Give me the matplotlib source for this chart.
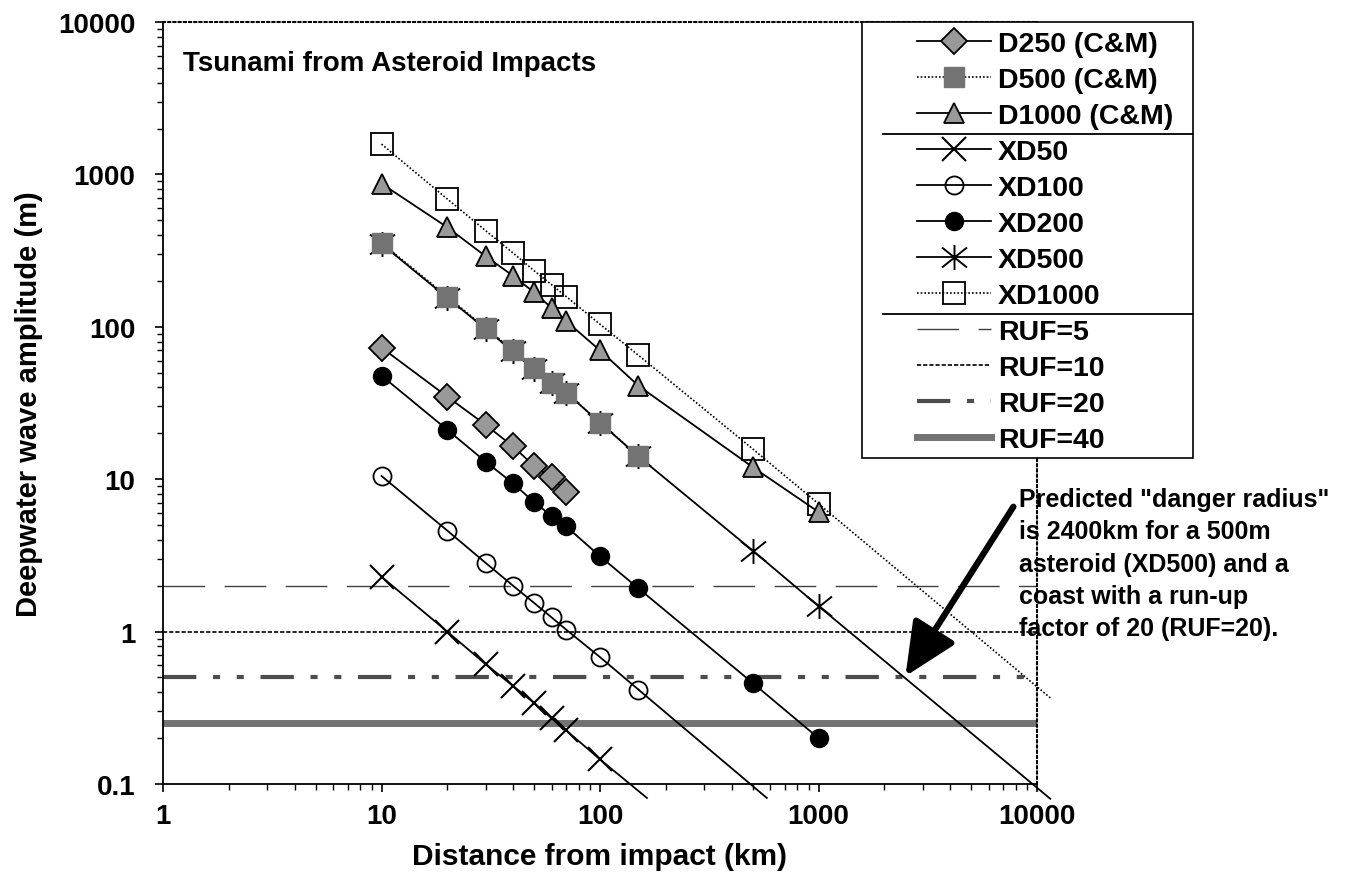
import matplotlib
matplotlib.use("Agg")
import matplotlib.pyplot as plt
import matplotlib.ticker as mticker
from matplotlib.lines import Line2D
from matplotlib.patches import Rectangle
from matplotlib.path import Path

plt.rcParams['font.family'] = ['Liberation Sans', 'DejaVu Sans']
plt.rcParams['font.weight'] = 'bold'

# distances (km) where the amplitudes were read
dist = [10, 20, 30, 40, 50, 60, 70, 100, 150, 500, 1000]

# Crawford & Mader values
d250 = [73, 34.8, 22.7, 16.4, 12.2, 10.3, 8.3]
d500 = [355, 158, 98, 70, 54, 43, 37, 23.5, 14.2]
d1000 = [870, 450, 290, 216, 168, 133, 109, 70, 41, 12.0, 6.1]

# XD series
xd50 = [2.29, 1.0, 0.61, 0.44, 0.34, 0.27, 0.225, 0.145]
xd100 = [10.5, 4.6, 2.82, 2.0, 1.54, 1.24, 1.03, 0.68, 0.416]
xd200 = [47.8, 21.1, 13.0, 9.4, 7.05, 5.76, 4.9, 3.12, 1.92, 0.46, 0.2]
xd500 = [350, 155, 97, 69, 53, 43, 37, 23.5, 14.1, 3.4, 1.47]
xd1000 = [1580, 690, 427, 305, 233, 189, 158, 104, 65, 15.8, 6.9]

# where the XD lines run on past their last marker
xd50_end = (164, 0.081)
xd100_end = (580, 0.081)
xd500_end = (11500, 0.08)
xd1000_end = (11700, 0.36)

# run-up factor levels (m)
ruf_labels = ['RUF=5', 'RUF=10', 'RUF=20', 'RUF=40']
ruf_levels = [2, 1, 0.5, 0.25]

# asterisk marker: vertical bar plus two diagonals
star = Path([(0, -1), (0, 1), (-1, -0.8), (1, 0.8), (-1, 0.8), (1, -0.8)],
            [Path.MOVETO, Path.LINETO, Path.MOVETO, Path.LINETO, Path.MOVETO, Path.LINETO])

fig = plt.figure(figsize=(13.46, 8.79), dpi=100)
ax = fig.add_axes([163/1346, 1 - 785/879, (1037-163)/1346, (785-23)/879])
ax.set_xscale('log')
ax.set_yscale('log')
ax.set_xlim(1, 10000)
ax.set_ylim(0.1, 10000)

ruf_styles = [
    dict(color='0.25', lw=1.0, ls=(0, (30, 14))),
    dict(color='black', lw=1.2, ls=(0, (2.5, 1.2))),
    dict(color='0.3', lw=3.0, ls=(0, (8, 4, 1.7, 4, 1.7, 4))),
    dict(color='0.45', lw=5.0, ls='-'),
]
ruf_handles = []
for lev, lab, st in zip(ruf_levels, ruf_labels, ruf_styles):
    h = ax.axhline(lev, zorder=2, label=lab, **st)
    ruf_handles.append(h)

# XD series first, C&M drawn over them
n50 = len(xd50)
n100 = len(xd100)
ax.plot([dist[n50 - 1], xd50_end[0]], [xd50[-1], xd50_end[1]], color='black', lw=1.3, clip_on=False, zorder=3)
ax.plot([dist[n100 - 1], xd100_end[0]], [xd100[-1], xd100_end[1]], color='black', lw=1.3, clip_on=False, zorder=3)
ax.plot([dist[-1], xd500_end[0]], [xd500[-1], xd500_end[1]], color='black', lw=1.3, clip_on=False, zorder=3)
ax.plot([dist[-1], xd1000_end[0]], [xd1000[-1], xd1000_end[1]], color='black', lw=1.2,
        ls=(0, (1, 1.2)), clip_on=False, zorder=3)

h_xd50, = ax.plot(dist[:n50], xd50, color='black', lw=1.3, marker='x', ms=17, mew=1.5, zorder=4)
h_xd100, = ax.plot(dist[:n100], xd100, color='black', lw=1.3, marker='o', ms=13, mfc='none', mew=1.3, zorder=4)
h_xd200, = ax.plot(dist, xd200, color='black', lw=1.3, marker='o', ms=13, mfc='black', zorder=4)
h_xd500, = ax.plot(dist, xd500, color='black', lw=1.3, marker=star, ms=18, mew=1.4, zorder=4)
h_xd1000, = ax.plot(dist, xd1000, color='black', lw=1.2, ls=(0, (1, 1.2)), marker='s', ms=16,
                    mfc='none', mew=1.3, zorder=4)

h_d250, = ax.plot(dist[:len(d250)], d250, color='black', lw=1.3, marker='D', ms=13,
                  mfc='0.6', mec='black', mew=1.3, zorder=5)
h_d500, = ax.plot(dist[:len(d500)], d500, color='black', lw=1.2, ls=(0, (1, 1.2)), marker='s', ms=14,
                  mfc='0.45', mec='0.45', zorder=5)
h_d1000, = ax.plot(dist, d1000, color='black', lw=1.3, marker='^', ms=15,
                   mfc='0.6', mec='black', mew=1.3, zorder=5)

# axes, ticks, grid
ax.xaxis.set_major_locator(mticker.LogLocator(base=10, numticks=10))
ax.yaxis.set_major_locator(mticker.LogLocator(base=10, numticks=10))
ax.xaxis.set_minor_locator(mticker.LogLocator(base=10, subs=range(2, 10), numticks=10))
ax.yaxis.set_minor_locator(mticker.LogLocator(base=10, subs=range(2, 10), numticks=10))
fmt = mticker.FuncFormatter(lambda v, p: ('%g' % v) if v >= 1 else '%.1f' % v)
ax.xaxis.set_major_formatter(fmt)
ax.yaxis.set_major_formatter(fmt)
ax.xaxis.set_minor_formatter(mticker.NullFormatter())
ax.yaxis.set_minor_formatter(mticker.NullFormatter())
ax.tick_params(which='major', direction='out', length=6, width=1.2, labelsize=20)
ax.tick_params(which='minor', direction='out', length=4, width=1.0)
ax.tick_params(axis='y', which='major', pad=14)
ax.tick_params(axis='x', which='major', pad=8)

ax.grid(axis='y', which='major', color='black', lw=0.9, ls=(0, (8, 5)), zorder=1)
for t in ax.yaxis.get_major_ticks():
    if t.get_loc() not in (10, 100, 1000):
        t.gridline.set_visible(False)

for s in ['left', 'bottom']:
    ax.spines[s].set_linewidth(1.3)
for s in ['top', 'right']:
    ax.spines[s].set_linestyle((0, (1, 1.5)))
    ax.spines[s].set_linewidth(1.5)

ax.set_xlabel('Distance from impact (km)', fontsize=21.5, fontweight='bold', labelpad=9)
ax.set_ylabel('Deepwater wave amplitude (m)', fontsize=21, fontweight='bold', labelpad=11)

ax.text(0.023, 0.946, 'Tsunami from Asteroid Impacts', transform=ax.transAxes,
        fontsize=20, fontweight='bold', va='center', ha='left')

# annotation
ax.annotate('', xy=(2500, 0.51), xytext=(7800, 6.6),
            arrowprops=dict(arrowstyle='-|>,head_length=1.3,head_width=0.6', lw=4.5,
                            color='black', mutation_scale=25, shrinkA=0, shrinkB=0),
            annotation_clip=False, zorder=6)
ax.text(8300, 8.85, 'Predicted "danger radius"\nis 2400km for a 500m\nasteroid (XD500) and a\n'
        'coast with a run-up\nfactor of 20 (RUF=20).', fontsize=18, fontweight='bold',
        va='top', ha='left', linespacing=1.43, clip_on=False, zorder=6)

# legend
handles = [h_d250, h_d500, h_d1000, h_xd50, h_xd100, h_xd200, h_xd500, h_xd1000] + ruf_handles
labels = ['D250 (C&M)', 'D500 (C&M)', 'D1000 (C&M)', 'XD50', 'XD100', 'XD200', 'XD500', 'XD1000'] + ruf_labels
leg = fig.legend(handles, labels, loc='upper left', bbox_to_anchor=(917/1346, 1 - 32/879),
                 frameon=False, fontsize=20.5, handlelength=2.6, handletextpad=0.25,
                 labelspacing=0.35, borderpad=0, borderaxespad=0)
fig.canvas.draw()
bb = leg.get_window_extent()
texts = leg.get_texts()
x0 = bb.x0 - 55
x1 = x0 + 331
y_top = 879 - 23
y_bot = bb.y0 - 5
fig.add_artist(Rectangle((x0, y_bot), x1 - x0, y_top - y_bot, transform=None,
                         fill=True, facecolor='white', edgecolor='black', lw=1.2, zorder=0.5))
leg.set_zorder(10)
for i in (2, 7):
    a = texts[i].get_window_extent()
    b = texts[i + 1].get_window_extent()
    ym = ((a.y0 + a.y1) / 2 + (b.y0 + b.y1) / 2) / 2
    fig.add_artist(Line2D([x0 + 21, x1], [ym, ym], transform=None, color='black', lw=1.3))

fig.savefig('out.png', dpi=100)
